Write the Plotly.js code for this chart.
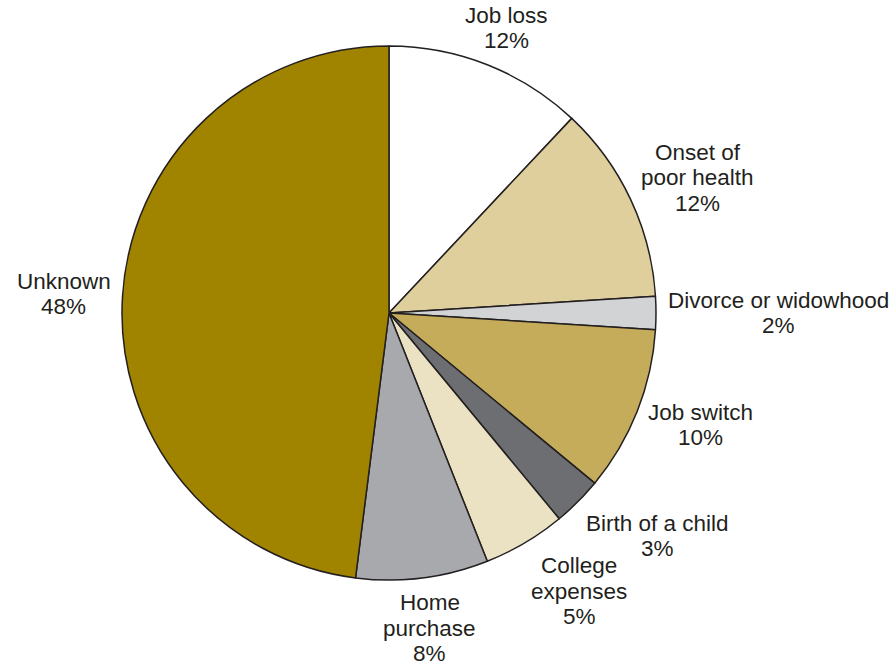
<!DOCTYPE html>
<html>
<head>
<meta charset="utf-8">
<script src="https://cdn.plot.ly/plotly-3.0.1.min.js"></script>
<style>html,body{margin:0;padding:0;background:#fff;}#chart{width:896px;height:669px;}</style>
</head>
<body>
<div id="chart"></div>
<script>
var categories = ["Job loss", "Onset of poor health", "Divorce or widowhood", "Job switch", "Birth of a child", "College expenses", "Home purchase", "Unknown"];
var labelLines = [["Job loss"], ["Onset of", "poor health"], ["Divorce or widowhood"], ["Job switch"], ["Birth of a child"], ["College", "expenses"], ["Home", "purchase"], ["Unknown"]];
var shares = [12, 12, 2, 10, 3, 5, 8, 48];
var sliceColors = ["#ffffff", "#dfcf9d", "#d1d3d4", "#c4ac5b", "#6d6e71", "#ebe2c3", "#a7a9ac", "#a08400"];

var W = 896, H = 669;
var cx = 389, cy = 313, r = 267;
var fontFamily = "Liberation Sans, Arial, sans-serif";
var fontSize = 22.5, lineH = 25.5, gap = 12;

var ctx = document.createElement("canvas").getContext("2d");
ctx.font = fontSize + "px 'Liberation Sans'";

var total = shares.reduce(function(a, b){ return a + b; }, 0);
var annotations = [];
var cum = 0;
shares.forEach(function(v, i){
  var mid = (cum + v / 2) / total * 2 * Math.PI;
  cum += v;
  var s = Math.sin(mid), c = Math.cos(mid);
  var px = cx + (r + gap) * s, py = cy - (r + gap) * c;
  var lines = labelLines[i].concat([v + "%"]);
  var w = Math.max.apply(null, lines.map(function(t){ return ctx.measureText(t).width; }));
  var h = lines.length * lineH;
  var left = s > 0.4 ? px : (s < -0.4 ? px - w : px - w / 2 + w * s / 2);
  var top = c > 0.5 ? py - h : (c < -0.5 ? py : py - h * (1 + c) / 2);
  lines.forEach(function(t, j){
    annotations.push({
      xref: "paper", yref: "paper",
      x: (left + w / 2) / W, y: 1 - (top + (j + 0.5) * lineH) / H,
      xanchor: "center", yanchor: "middle",
      text: t, showarrow: false,
      font: {family: fontFamily, size: fontSize, color: "#231f20"}
    });
  });
});

var trace = {
  type: "pie",
  labels: categories,
  values: shares,
  textinfo: "none",
  sort: false,
  direction: "clockwise",
  rotation: 0,
  hoverinfo: "label+percent",
  marker: {colors: sliceColors, line: {color: "#231f20", width: 1.5}},
  domain: {x: [(cx - r) / W, (cx + r) / W], y: [(H - cy - r) / H, (H - cy + r) / H]}
};
var layout = {
  width: W, height: H,
  margin: {l: 0, r: 0, t: 0, b: 0},
  showlegend: false,
  paper_bgcolor: "#ffffff",
  annotations: annotations
};
Plotly.newPlot("chart", [trace], layout, {displayModeBar: false, staticPlot: true});
</script>
</body>
</html>
